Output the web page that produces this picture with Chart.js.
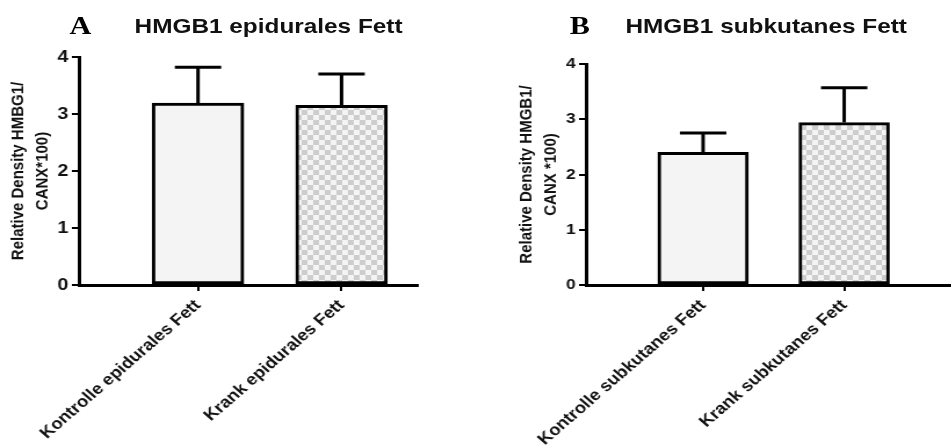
<!DOCTYPE html>
<html>
<head>
<meta charset="utf-8">
<script src="https://cdn.jsdelivr.net/npm/chart.js@4.4.1/dist/chart.umd.min.js"></script>
<style>
body { margin: 0; background: #fff; width: 951px; height: 448px; overflow: hidden; position: relative; font-family: 'Liberation Sans', Arial, sans-serif; }
/* the reference picture is a bit stretched sideways, so each panel is too */
.panel { position: absolute; top: 0; height: 448px; transform-origin: 0 0; transform: scaleX(1.16); }
#panelA { left: 0; width: 380px; }
#panelB { left: 470px; width: 415px; }
.letter { position: absolute; top: 13px; font-family: 'Liberation Serif', 'Times New Roman', serif; font-weight: bold; font-size: 26px; line-height: 1; color: #000; }
.title { position: absolute; top: 15px; font-weight: bold; font-size: 21px; line-height: 1; white-space: nowrap; color: #111; }
canvas { position: absolute; left: 0; top: 0; }
</style>
</head>
<body>
<div class="panel" id="panelA">
  <div class="letter" style="left:60px">A</div>
  <div class="title" style="left:116px">HMGB1 epidurales Fett</div>
  <canvas id="chartA" width="380" height="448"></canvas>
</div>
<div class="panel" id="panelB">
  <div class="letter" style="left:86px">B</div>
  <div class="title" style="left:134px">HMGB1 subkutanes Fett</div>
  <canvas id="chartB" width="415" height="448"></canvas>
</div>
<script>
// daten
var groupPos = [1, 2];
var labelsA = ['Kontrolle epidurales Fett', 'Krank epidurales Fett'];
var meanA = [3.19, 3.15];
var sdA = [0.63, 0.55];
var labelsB = ['Kontrolle subkutanes Fett', 'Krank subkutanes Fett'];
var meanB = [2.40, 2.94];
var sdB = [0.35, 0.63];
var yTicks = [0, 1, 2, 3, 4];

var FONT = "'Liberation Sans', Arial, sans-serif";

// grau/weiss Schachbrett fuer "Krank"
function checker() {
  var c = document.createElement('canvas');
  c.width = 10; c.height = 10;
  var g = c.getContext('2d');
  g.fillStyle = '#f4f4f4';
  g.fillRect(0, 0, 10, 10);
  g.fillStyle = '#cdcdcd';
  g.fillRect(0, 0, 5, 5);
  g.fillRect(5, 5, 5, 5);
  return g.createPattern(c, 'repeat');
}

// nur obere Fehlerbalken (SD)
var errorBars = {
  id: 'errorBars',
  afterDatasetsDraw: function (chart, args, opts) {
    var ctx = chart.ctx;
    var y = chart.scales.y;
    var ds = chart.data.datasets[0];
    var meta = chart.getDatasetMeta(0);
    ctx.save();
    ctx.strokeStyle = '#000';
    ctx.lineWidth = 3;
    meta.data.forEach(function (bar, i) {
      var v = ds.data[i].y;
      var top = y.getPixelForValue(v + opts.sd[i]);
      var base = y.getPixelForValue(v);
      ctx.beginPath();
      ctx.moveTo(bar.x, base);
      ctx.lineTo(bar.x, top);
      ctx.moveTo(bar.x - opts.cap, top);
      ctx.lineTo(bar.x + opts.cap, top);
      ctx.stroke();
    });
    ctx.restore();
  }
};

function makeChart(id, labels, means, sds, o) {
  var points = groupPos.map(function (p, i) { return { x: p, y: means[i] }; });
  return new Chart(document.getElementById(id), {
    type: 'bar',
    data: {
      datasets: [{
        data: points,
        backgroundColor: ['#f4f4f4', checker()],
        borderColor: '#000',
        borderWidth: 3,
        borderSkipped: false,
        barThickness: o.barWidth
      }]
    },
    options: {
      responsive: false,
      animation: false,
      layout: { padding: o.padding },
      plugins: {
        legend: { display: false },
        tooltip: { enabled: false },
        errorBars: { sd: sds, cap: 20 }
      },
      scales: {
        x: {
          type: 'linear',
          offset: false,
          min: o.xMin,
          max: o.xMax,
          afterBuildTicks: function (s) { s.ticks = groupPos.map(function (v) { return { value: v }; }); },
          afterFit: function (s) { s.height = 163; },
          ticks: {
            autoSkip: false,
            minRotation: 45,
            maxRotation: 45,
            padding: 5,
            color: '#111',
            font: { family: FONT, size: 16, weight: 'bold' },
            callback: function (v, i) { return labels[i]; }
          },
          grid: { offset: false, drawOnChartArea: false, tickLength: 6, color: '#000', lineWidth: 2 },
          border: { color: '#000', width: 3 }
        },
        y: {
          min: 0,
          max: 4,
          afterBuildTicks: function (s) { s.ticks = yTicks.map(function (v) { return { value: v }; }); },
          afterFit: function (s) { s.width = o.yWidth; },
          ticks: {
            padding: 3,
            color: '#111',
            font: { family: FONT, size: o.tickSize, weight: 'bold' }
          },
          grid: { drawOnChartArea: false, tickLength: 6, color: '#000', lineWidth: 2 },
          border: { color: '#000', width: 3 },
          title: {
            display: true,
            text: o.yTitle,
            color: '#111',
            padding: { top: 6, bottom: 0 },
            font: { family: FONT, size: 15, weight: 'bold', lineHeight: 1.35 }
          }
        }
      }
    },
    plugins: [errorBars]
  });
}

makeChart('chartA', labelsA, meanA, sdA, {
  padding: { top: 57, right: 20, left: 0, bottom: 0 },
  yWidth: 68, xMin: 0.17, xMax: 2.53, barWidth: 79, tickSize: 17,
  yTitle: ['Relative Density HMBG1/', 'CANX*100)']
});

makeChart('chartB', labelsB, meanB, sdB, {
  padding: { top: 64, right: 0, left: 33, bottom: 0 },
  yWidth: 67, xMin: 0.17, xMax: 2.76, barWidth: 78, tickSize: 15,
  yTitle: ['Relative Density HMGB1/', 'CANX *100)']
});
</script>
</body>
</html>
